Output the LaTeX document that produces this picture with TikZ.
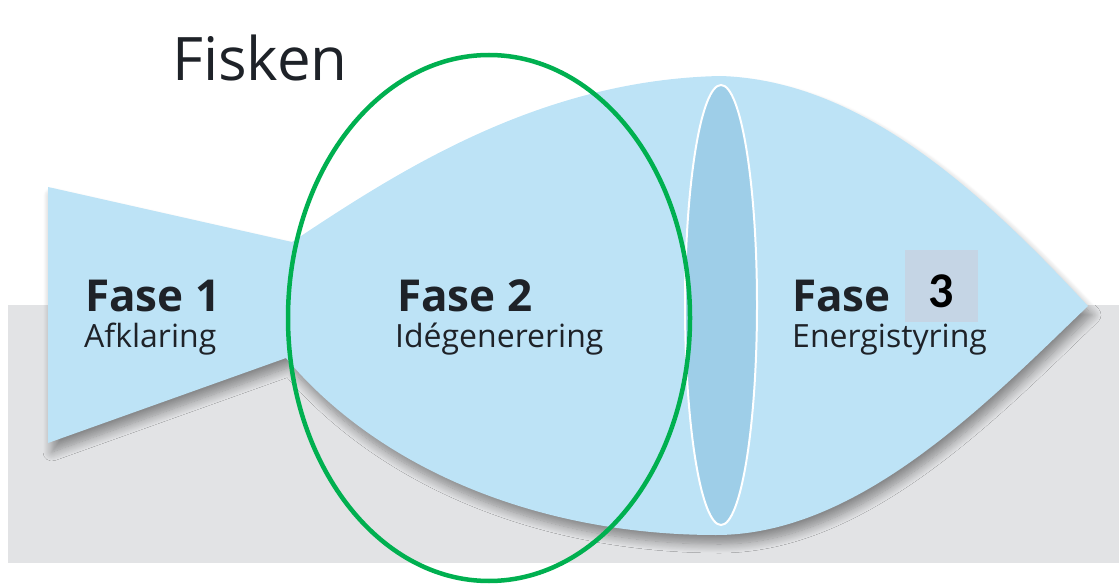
\documentclass[tikz,border=0pt]{standalone}
\usepackage{fontspec}
\setmainfont{Open Sans}
\newfontfamily\digitfont{Carlito}
\usetikzlibrary{shadows.blur}
\definecolor{fishblue}{RGB}{189,227,246}
\definecolor{lensblue}{RGB}{158,206,232}
\definecolor{floorgray}{RGB}{226,227,229}
\definecolor{tagbox}{RGB}{197,213,229}
\definecolor{markgreen}{RGB}{0,176,80}
\definecolor{inkdark}{RGB}{30,34,40}
\tikzset{
  phase/.style={anchor=base west, inner sep=0pt, font=\bfseries\fontsize{44}{44}\selectfont, text=inkdark},
  sub/.style={anchor=base west, inner sep=0pt, font=\fontsize{32}{32}\selectfont, text=inkdark},
}
\begin{document}
\begin{tikzpicture}[x=1pt,y=-1pt]
\useasboundingbox (0,0) rectangle (1119,585);
% floor band
\fill[floorgray] (8,305) rectangle (1119,563);
% fish outline: tail and body
\fill[fishblue, blur shadow={shadow xshift=4pt, shadow yshift=-9pt, shadow blur steps=12, shadow blur radius=9pt, shadow opacity=40}]
  (48,187) -- (292,242)
  .. controls (400,170) and (540,80) .. (720,76)
  .. controls (860,80) and (980,190) .. (1088,306)
  .. controls (990,400) and (860,535) .. (716,535)
  .. controls (540,535) and (380,470) .. (286,358)
  -- (48,443) -- cycle;
% gill lens
\draw[white, line width=2pt, fill=lensblue] (721,305) ellipse [x radius=36pt, y radius=220pt];
% title
\node[anchor=base west, inner sep=0pt, font=\fontsize{60}{60}\selectfont, text=inkdark] (title) at (172,81) {Fisken};
% phase labels
\node[phase] (f1) at (85,312) {Fase 1};
\node[sub] (s1) at (84,347) {Afklaring};
\node[phase] (f2) at (397,312) {Fase 2};
\node[sub] (s2) at (395,347) {Idégenerering};
\node[phase] (f3) at (792,312) {Fase};
\fill[tagbox] (905,250) rectangle (978,322);
\node[inner sep=0pt, font=\digitfont\bfseries\fontsize{50}{50}\selectfont, text=black] (n3) at (941,291) {3};
\node[sub] (s3) at (792,347) {Energistyring};
% highlight ring
\draw[markgreen, line width=4.5pt] (489,318) ellipse [x radius=201pt, y radius=263pt];
\end{tikzpicture}
\end{document}
